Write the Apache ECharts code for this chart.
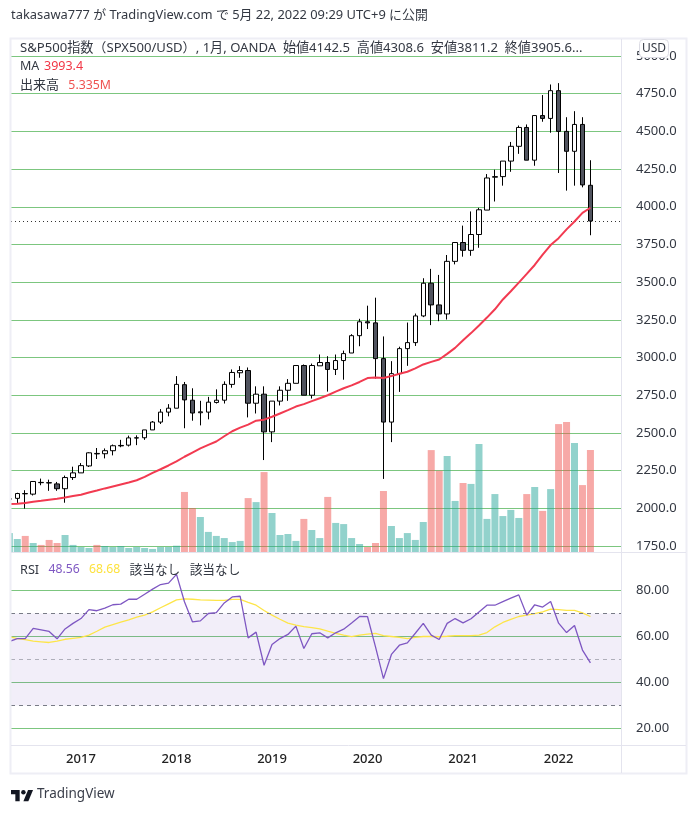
<!DOCTYPE html>
<html><head><meta charset="utf-8">
<style>html,body{margin:0;padding:0;background:#fff}#c{width:694px;height:814px}</style>
<script src="https://cdn.jsdelivr.net/npm/echarts@6/dist/echarts.min.js"></script>
</head><body><div id="c"></div>
<script>
// months are counted from May 2016 (index 0); the first entry is the clipped April 2016 bar (index -1)
const firstIndex = -1;
const open = [2060,2066,2096,2094,2172,2170,2162,2130,2204,2235,2281,2361,2362,2382,2417,2419,2466,2468,2520,2572,2638,2664,2820,2717,2634,2638,2702,2717,2822,2899,2914,2697,2757,2507,2711,2783,2829,2947,2750,2945,2967,2921,2980,3030,3145,3237,3230,2993,2572,2893,3059,3099,3276,3493,3349,3289,3638,3763,3711,3816,3978,4196,4200,4303,4401,4526,4309,4605,4586,4770,4500,4368,4546,4142.5];
const close = [2064,2098,2098,2178,2170,2168,2130,2204,2235,2283,2368,2364,2382,2415,2414,2467,2468,2520,2572,2638,2664,2822,2719,2632,2640,2704,2717,2822,2901,2914,2697,2757,2507,2711,2783,2829,2947,2750,2947,2967,2921,2980,3026,3145,3237,3230,2993,2572,2893,3059,3099,3276,3493,3349,3289,3638,3763,3711,3816,3980,4191,4200,4303,4401,4526,4309,4605,4586,4770,4500,4368,4546,4145,3905.6];
const low = [2055,2033,1998,2085,2153,2116,2116,2037,2188,2235,2274,2327,2331,2351,2405,2410,2419,2454,2520,2559,2610,2664,2531,2581,2550,2590,2695,2695,2800,2866,2603,2629,2320,2439,2682,2713,2829,2750,2728,2945,2774,2884,2853,3030,3075,3189,2860,2195,2439,2772,2945,3077,3268,3215,3241,3252,3618,3669,3675,3728,3978,4035,4140,4232,4351,4309,4272,4564,4491,4224,4107,4140,4129,3811.2];
const high = [2068,2103,2120,2178,2197,2190,2175,2217,2276,2300,2372,2400,2397,2423,2454,2482,2484,2520,2579,2658,2691,2877,2838,2796,2713,2739,2789,2842,2921,2943,2934,2809,2809,2711,2809,2857,2947,2954,2960,3020,3009,3020,3046,3155,3257,3344,3397,3140,2976,3072,3232,3292,3526,3588,3548,3680,3763,3875,3969,3993,4217,4246,4303,4430,4539,4546,4605,4741,4811,4820,4594,4634,4594,4308.6];
const maLine = [2028,2031,2035,2044,2050,2057,2064,2072,2081,2090,2105,2118,2132,2145,2158,2171,2186,2208,2235,2259,2284,2312,2342,2370,2397,2421,2443,2478,2511,2535,2555,2581,2588,2607,2629,2651,2675,2691,2711,2730,2750,2774,2796,2815,2838,2864,2868,2864,2877,2893,2906,2928,2954,2971,2987,3024,3064,3114,3162,3213,3265,3320,3385,3440,3497,3555,3614,3682,3746,3792,3850,3902,3960,3993.4];
const volume = [.99,.68,.84,.47,.37,.63,.47,.89,.37,.26,.21,.37,.31,.26,.31,.21,.26,.21,.16,.26,.26,.33,3.14,2.30,1.83,1.05,.84,.73,.52,.58,2.82,2.61,4.18,2.04,.89,.94,.58,1.73,1.15,.73,2.88,1.52,1.46,.73,.42,.26,.47,3.19,1.36,.73,.99,.63,1.57,5.33,4.25,5.02,2.67,3.61,3.56,5.65,1.73,3.03,1.88,2.20,1.78,3.03,3.40,2.15,3.29,6.69,6.80,5.70,3.50,5.335];
const redVolumeMonths = [1,3,4,5,10,21,22,29,31,36,39,44,45,46,52,53,56,64,66,68,69,71,72];
const rsi = [57.8,59.1,59.1,63.5,62.9,62.2,59.0,63.3,65.7,67.8,71.7,71.2,72.3,73.8,74.1,76.2,76.2,78.4,80.6,82.6,83.2,87.0,75.1,66.4,66.8,70.0,70.4,74.6,77.2,77.5,59.4,61.9,47.5,56.5,59.1,60.9,64.5,54.8,61.2,61.6,59.4,61.6,63.2,65.9,68.7,68.6,55.5,41.7,52.2,56.2,57.2,61.4,65.7,60.6,58.7,65.7,67.8,65.9,67.7,70.7,73.6,73.6,75.2,76.7,78.1,69.3,73.8,72.8,75.2,65.8,61.7,64.8,54.1,48.56];
const rsiMa = [59.9,59.1,58.6,58.0,57.7,57.4,58.0,58.8,59.2,59.6,60.6,62.3,64.1,65.2,66.2,67.2,68.4,69.3,70.7,72.5,74.2,75.9,76.4,76.2,75.9,75.8,75.7,75.7,76.1,76.1,74.8,73.6,71.3,69.3,67.5,65.8,64.9,64.3,63.9,63.3,62.3,61.4,60.6,59.9,60.6,61.0,61.4,60.4,60.0,59.6,59.1,59.6,60.0,60.0,59.9,60.1,60.4,60.4,60.4,60.6,61.7,64.2,66.1,67.4,68.7,69.3,69.9,70.7,71.9,71.7,71.4,71.4,70.3,68.68];
const yearLabels = ['2017','2018','2019','2020','2021','2022'];
const yearMonths = [8,20,32,44,56,68];
const lastClose = 3905.6;
const headerText = 'takasawa777 が TradingView.com で 5月 22, 2022 09:29 UTC+9 に公開';
const symbolText = 'S&P500指数（SPX500/USD）, 1月, OANDA  始値4142.5  高値4308.6  安値3811.2  終値3905.6...';

const FONT = "'Noto Sans','Noto Sans CJK JP',sans-serif";
const GRID_GREEN = '#7cc67f', TXT = '#333842', AXIS_LINE = '#e4e4ee';
const X_MIN = -0.79, X_MAX = 75.84;
const xs = open.map((_, i) => i + firstIndex);
const xBase = {type:'value', min:X_MIN, max:X_MAX, axisLine:{show:false}, axisTick:{show:false}, splitLine:{show:false}, axisLabel:{show:false}};
const rightAxisLabel = {color:TXT, fontFamily:FONT, fontSize:13, margin:15};
const rt = (color, size) => ({fontSize:size || 13, color, fontFamily:FONT, fontWeight:'normal'});

const option = {
  animation:false,
  backgroundColor:'#fff',
  textStyle:{fontFamily:FONT},
  title:[
    {left:11, top:9, padding:0, text:headerText, textStyle:{fontSize:12.9, fontWeight:'normal', color:'#333842', fontFamily:FONT}},
    {left:20, top:39, padding:0, text:symbolText, textStyle:{fontSize:13.1, lineHeight:18, fontWeight:'normal', color:TXT, fontFamily:FONT}},
    {left:20, top:57, padding:0, text:'{a|MA} {b|3993.4}', textStyle:{rich:{a:rt(TXT,12.5),b:rt('#f23645',12.5)}}},
    {left:20, top:76, padding:0, text:'{a|出来高}  {b|5.335M}', textStyle:{rich:{a:rt(TXT),b:rt('#ef5350',12.3)}}},
    {left:20, top:561, padding:0, text:'{a|RSI}  {b|48.56}  {c|68.68}  {a|該当なし}  {a|該当なし}', textStyle:{rich:{a:rt(TXT,12.7),b:rt('#7e57c2',12.2),c:rt('#fde23e',12.2)}}},
    {left:37, top:787, padding:0, text:'TradingView', textStyle:{fontSize:13.5, fontWeight:'normal', color:'#3a3e4a', fontFamily:FONT}}
  ],
  grid:[
    {left:11, width:610, top:56, height:490},
    {left:11, width:610, top:39, height:513},
    {left:11, width:610, top:567.5, height:161}
  ],
  xAxis:[
    Object.assign({gridIndex:0}, xBase),
    Object.assign({gridIndex:1}, xBase),
    Object.assign({gridIndex:2}, xBase, {
      position:'bottom', offset:16.5,
      axisLabel:{show:true, color:'#222', fontFamily:FONT, fontSize:13, fontWeight:500, margin:8, customValues:yearMonths,
        formatter:v => yearLabels[yearMonths.indexOf(v)] || ''}
    })
  ],
  yAxis:[
    {gridIndex:0, type:'value', position:'right', min:1750, max:5000, interval:250, axisLine:{show:false}, axisTick:{show:false},
      splitLine:{lineStyle:{color:GRID_GREEN, width:1}}, axisLabel:Object.assign({formatter:v => v.toFixed(1)}, rightAxisLabel)},
    {gridIndex:1, type:'value', min:0, max:26.83, show:false, splitLine:{show:false}},
    {gridIndex:2, type:'value', position:'right', min:20, max:90, interval:20, axisLine:{show:false}, axisTick:{show:false},
      splitLine:{showMaxLine:false, lineStyle:{color:GRID_GREEN, width:1}},
      axisLabel:Object.assign({showMaxLabel:false, formatter:v => v.toFixed(2)}, rightAxisLabel)}
  ],
  series:[
    {type:'bar', xAxisIndex:1, yAxisIndex:1, barWidth:7, z:2,
      data:volume.map((v, i) => ({value:[xs[i], v], itemStyle:{color: redVolumeMonths.includes(xs[i]) ? 'rgba(239,83,80,0.5)' : 'rgba(38,166,154,0.5)'}}))},
    {type:'candlestick', xAxisIndex:0, yAxisIndex:0, barWidth:5, z:4,
      encode:{x:0, y:[1,2,3,4]},
      itemStyle:{color:'#ffffff', color0:'#50535e', borderColor:'#000', borderColor0:'#000', borderWidth:1},
      data:xs.map((x, i) => [x, open[i], close[i], low[i], high[i]]),
      markLine:{silent:true, symbol:'none', label:{show:false}, lineStyle:{type:[1,3], color:'#333', width:1}, data:[{yAxis:lastClose}]}},
    {type:'line', xAxisIndex:0, yAxisIndex:0, symbol:'none', z:5, lineStyle:{color:'#f23a50', width:2},
      data:xs.map((x, i) => [x, maLine[i]])},
    {type:'line', xAxisIndex:2, yAxisIndex:2, symbol:'none', z:4, lineStyle:{color:'#fde548', width:1.3},
      data:xs.map((x, i) => [x, rsiMa[i]])},
    {type:'line', xAxisIndex:2, yAxisIndex:2, symbol:'none', z:5, lineStyle:{color:'#7e57c2', width:1.3},
      data:xs.map((x, i) => [x, rsi[i]]),
      markArea:{silent:true, itemStyle:{color:'rgba(126,87,194,0.1)'}, data:[[{yAxis:70},{yAxis:30}]]},
      markLine:{silent:true, symbol:'none', label:{show:false}, lineStyle:{type:[4,4], color:'#787b86', width:1},
        data:[{yAxis:70},{yAxis:30},{yAxis:50, lineStyle:{color:'rgba(120,123,134,0.55)'}}]}}
  ],
  graphic:[
    {type:'rect', z:49, shape:{x:0,y:30,width:10,height:750}, style:{fill:'#fff'}},
    {type:'rect', z:50, shape:{x:10.5,y:38.5,width:676,height:735}, style:{fill:'none', stroke:'#eeeef5', lineWidth:2}},
    {type:'line', z:50, shape:{x1:621.5,y1:39,x2:621.5,y2:773}, style:{stroke:AXIS_LINE, lineWidth:1}},
    {type:'line', z:50, shape:{x1:11,y1:552.5,x2:686,y2:552.5}, style:{stroke:AXIS_LINE, lineWidth:1}},
    {type:'line', z:50, shape:{x1:11,y1:745.5,x2:686,y2:745.5}, style:{stroke:AXIS_LINE, lineWidth:1}},
    {type:'rect', z:51, shape:{x:639.5,y:39.5,width:29,height:18,r:4}, style:{fill:'#fff', stroke:'#dcdce4', lineWidth:1}},
    {type:'text', z:52, x:654, y:48.5, style:{text:'USD', fill:TXT, font:"12px "+FONT, textAlign:'center', textVerticalAlign:'middle'}},
    {type:'polygon', z:52, x:11, y:787.5, scaleX:0.62, scaleY:0.62, shape:{points:[[14,22],[7,22],[7,11],[0,11],[0,4],[14,4]]}, style:{fill:'#131722'}},
    {type:'polygon', z:52, x:11, y:787.5, scaleX:0.62, scaleY:0.62, shape:{points:[[28,22],[20,22],[27.5,4],[35.5,4]]}, style:{fill:'#131722'}},
    {type:'circle', z:52, x:11, y:787.5, scaleX:0.62, scaleY:0.62, shape:{cx:20, cy:7.5, r:3.6}, style:{fill:'#131722'}}
  ]
};
echarts.init(document.getElementById('c'), null, {renderer:'canvas'}).setOption(option);
</script></body></html>
